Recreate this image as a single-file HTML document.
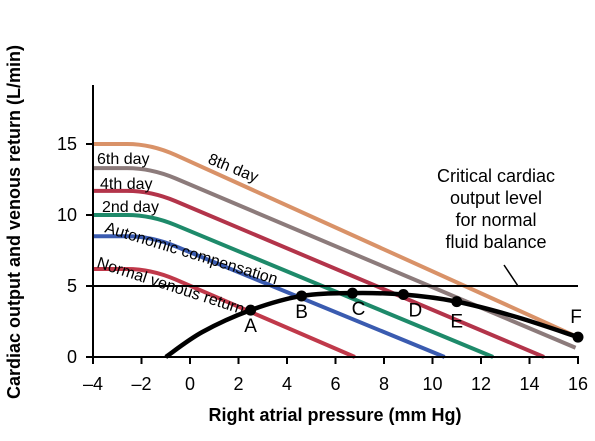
<!DOCTYPE html>
<html><head><meta charset="utf-8"><style>
html,body{margin:0;padding:0;background:#fff;}
svg{display:block;font-family:"Liberation Sans",Arial,sans-serif;}
</style></head><body>
<svg id="chart" width="595" height="441" viewBox="0 0 595 441"></svg>
<script>
const xTicks = [-4,-2,0,2,4,6,8,10,12,14,16];
const yTicks = [0,5,10,15];
const curveNames = ["Normal venous return","Autonomic compensation","2nd day","4th day","6th day","8th day"];
const curveColors = ["#c0394a","#3a5bb0","#1e8a6a","#b3344a","#8c7b7b","#d99268"];
const plateaus = [6.2,8.5,10.0,11.7,13.3,15.0];
const zeroX = [6.8,10.5,12.5,14.6,16.8,17.8];
const coX = [-1,0.5,2.5,4.6,6.7,8.8,11,13.5,16];
const coY = [0,1.75,3.3,4.3,4.5,4.4,3.9,2.8,1.4];
const markIdx = [2,3,4,5,6,8];
const pointLabels = ["A","B","C","D","E","F"];
const criticalLevel = 5;

const svg = document.getElementById('chart');
const NS = 'http://www.w3.org/2000/svg';
const X = v => 93 + (v + 4) * 24.25;
const Y = v => 357 - v * 14.2;
function mk(tag, attrs, parent) {
  const e = document.createElementNS(NS, tag);
  for (const k in attrs) e.setAttribute(k, attrs[k]);
  (parent || svg).appendChild(e);
  return e;
}

curveNames.forEach((n, i) => {
  const p = plateaus[i], z = zeroX[i];
  const bx = -1.6, slope = p / (z - bx);
  const xEnd = i >= 4 ? 15.9 : z;
  const f = x => x <= bx ? p : p - slope * (x - bx);
  const d = `M${X(-4)},${Y(p)} L${X(-2.6)},${Y(p)} Q${X(bx)},${Y(p)} ${X(-0.6)},${Y(f(-0.6))} L${X(xEnd)},${Y(f(xEnd))}`;
  const path = mk('path', {d, fill:'none', stroke:curveColors[i], 'stroke-width':4});
  
  
});

const ax = mk('g', {});


mk('line', {x1:X(-4), y1:85, x2:X(-4), y2:Y(0), stroke:'#000', 'stroke-width':2}, ax);
mk('line', {x1:X(-4)-1, y1:Y(0), x2:X(16)+1, y2:Y(0), stroke:'#000', 'stroke-width':2}, ax);
xTicks.forEach(t => {
  mk('line', {x1:X(t), y1:Y(0), x2:X(t), y2:Y(0)+7, stroke:'#000', 'stroke-width':2}, ax);
  const tx = mk('text', {x:X(t), y:390, 'text-anchor':'middle', 'font-size':18}, ax);
  tx.textContent = t < 0 ? '\u2013' + (-t) : t;
  
  
});
yTicks.forEach(t => {
  mk('line', {x1:X(-4)-7, y1:Y(t), x2:X(-4), y2:Y(t), stroke:'#000', 'stroke-width':2}, ax);
  const tx = mk('text', {x:77, y:Y(t)+6, 'text-anchor':'end', 'font-size':18}, ax);
  tx.textContent = t;
  
  
});

const cl = mk('line', {x1:X(-4), y1:Y(criticalLevel), x2:X(16), y2:Y(criticalLevel), stroke:'#000', 'stroke-width':2});


mk('line', {x1:504, y1:265, x2:518, y2:286, stroke:'#000', 'stroke-width':1.5});

let d = `M${X(coX[0])},${Y(coY[0])}`;
const pts = coX.map((x,i)=>[X(x),Y(coY[i])]);
for (let i=0;i<pts.length-1;i++){
  const p0=pts[Math.max(0,i-1)],p1=pts[i],p2=pts[i+1],p3=pts[Math.min(pts.length-1,i+2)];
  d+=` C${p1[0]+(p2[0]-p0[0])/6},${p1[1]+(p2[1]-p0[1])/6} ${p2[0]-(p3[0]-p1[0])/6},${p2[1]-(p3[1]-p1[1])/6} ${p2[0]},${p2[1]}`;
}
const co = mk('path', {d, fill:'none', stroke:'#000', 'stroke-width':4.5});


const lblOff = [[0,22],[0,22],[6,22],[12,22],[0,26],[-2,-14]];
pointLabels.forEach((l,i)=>{
  const k = markIdx[i];
  const cx = X(coX[k]), cy = Y(coY[k]);
  const c = mk('circle', {cx, cy, r:5.5, fill:'#000'});
  
  
  const t = mk('text', {x:cx+lblOff[i][0], y:cy+lblOff[i][1], 'text-anchor':'middle', 'font-size':19});
  t.textContent = l;
  
  
});

function label(txt, x, y, rot, name){
  const t = mk('text', {x, y, 'font-size':16, transform:`rotate(${rot} ${x} ${y})`});
  t.textContent = txt;
  
  
}
label('6th day', 97, 164, 0, 'label-6th-day');
label('4th day', 100, 189, 0, 'label-4th-day');
label('2nd day', 102, 212, 0, 'label-2nd-day');
label('8th day', 207, 163, 22, 'label-8th-day');
label('Autonomic compensation', 104, 232, 17, 'label-autonomic');
label('Normal venous return', 96, 267, 18, 'label-normal');

['Critical cardiac','output level','for normal','fluid balance'].forEach((s,i)=>{
  const t = mk('text', {x:496, y:182+i*22, 'text-anchor':'middle', 'font-size':18});
  t.textContent = s;
  
  
});

const xt = mk('text', {x:335, y:421, 'text-anchor':'middle', 'font-size':18, 'font-weight':'bold'});
xt.textContent = 'Right atrial pressure (mm Hg)';


const yt = mk('text', {x:20, y:222, 'text-anchor':'middle', 'font-size':18, 'font-weight':'bold', transform:'rotate(-90 20 222)'});
yt.textContent = 'Cardiac output and venous return (L/min)';


</script>
</body></html>
